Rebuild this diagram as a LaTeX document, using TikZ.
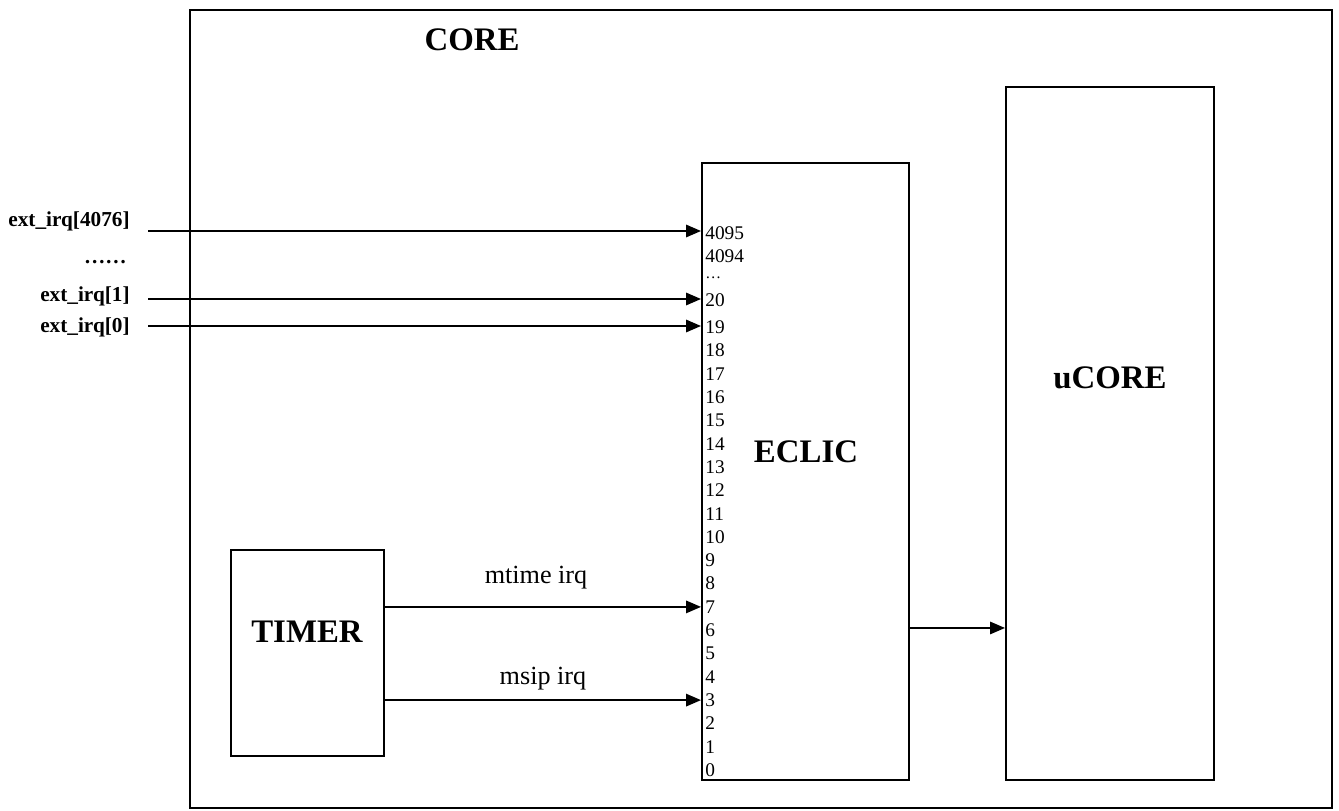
\documentclass[tikz,border=0pt]{standalone}
\usepackage{fontspec}
\setmainfont{Liberation Serif}
\usetikzlibrary{
  arrows.meta,
  positioning,
}
\tikzset{
  >={Triangle[length=8.5pt,width=7pt]},
  box/.style={draw, line width=1.1pt, inner sep=0pt},
  sig/.style={->, line width=1.1pt},
  bigname/.style={font=\fontsize{18.7}{22}\selectfont\bfseries},
  irqname/.style={font=\fontsize{12.1}{14}\selectfont\bfseries, anchor=east, inner sep=0pt},
  portnum/.style={font=\fontsize{11}{13}\selectfont, anchor=west, inner sep=0pt},
  siglabel/.style={font=\fontsize{14.9}{17}\selectfont, above, inner sep=0pt},
}

\begin{document}
\begin{tikzpicture}[x=0.02cm, y=-0.02cm]
  \useasboundingbox (0, 0) rectangle (1339, 811);

  % the blocks
  \node [box, minimum width=22.84cm, minimum height=15.96cm] (core) at (761, 409) {};
  \node [box, minimum width=4.14cm, minimum height=12.34cm] (eclic) at (805.5, 471.5) {};
  \node [box, minimum width=4.16cm, minimum height=13.86cm] (ucore) at (1110, 433.5) {};
  \node [box, minimum width=3.06cm, minimum height=4.12cm] (timer) at (307.5, 653) {};

  \node [bigname] at (472, 40) {CORE};
  \node [bigname] at (806, 452) {ECLIC};
  \node [bigname] at (1110, 378) {uCORE};
  \node [bigname] at (307, 632) {TIMER};

  % interrupt numbers
  \foreach \n in {0, ..., 19}
  {
    \node [portnum] (n\n) at (705, {770 - 23.3 * \n}) {\n};
  }
  \node [portnum] (n20) at (705, 300) {20};
  \node [portnum] (ndots) at (705, 278) {\fontsize{9}{10}\selectfont …};
  \node [portnum] (n4094) at (705, 256) {4094};
  \node [portnum] (n4095) at (705, 233) {4095};

  % external interrupts
  \node [irqname] (irq4076) at (130, 221) {ext\_irq[4076]};
  \node [irqname] (irqdots) at (127, 262) {……};
  \node [irqname] (irq1) at (130, 296) {ext\_irq[1]};
  \node [irqname] (irq0) at (130, 327) {ext\_irq[0]};

  \coordinate (in4076) at (148, 231);
  \coordinate (in1) at (148, 299);
  \coordinate (in0) at (148, 326);

  \draw [sig] (in4076) -- (eclic.west |- in4076);
  \draw [sig] (in1) -- (eclic.west |- in1);
  \draw [sig] (in0) -- (eclic.west |- in0);

  % timer interrupts
  \draw [sig] (timer.east |- n7) -- (eclic.west |- n7)
    node [siglabel, midway, xshift=-0.14cm, yshift=9.5pt] {mtime irq};
  \draw [sig] (timer.east |- n3) -- (eclic.west |- n3)
    node [siglabel, midway, yshift=5pt] {msip irq};

  \draw [sig] ([yshift=-3.13cm]eclic.east) -- ([yshift=-3.13cm]eclic.east -| ucore.west);
\end{tikzpicture}
\end{document}
